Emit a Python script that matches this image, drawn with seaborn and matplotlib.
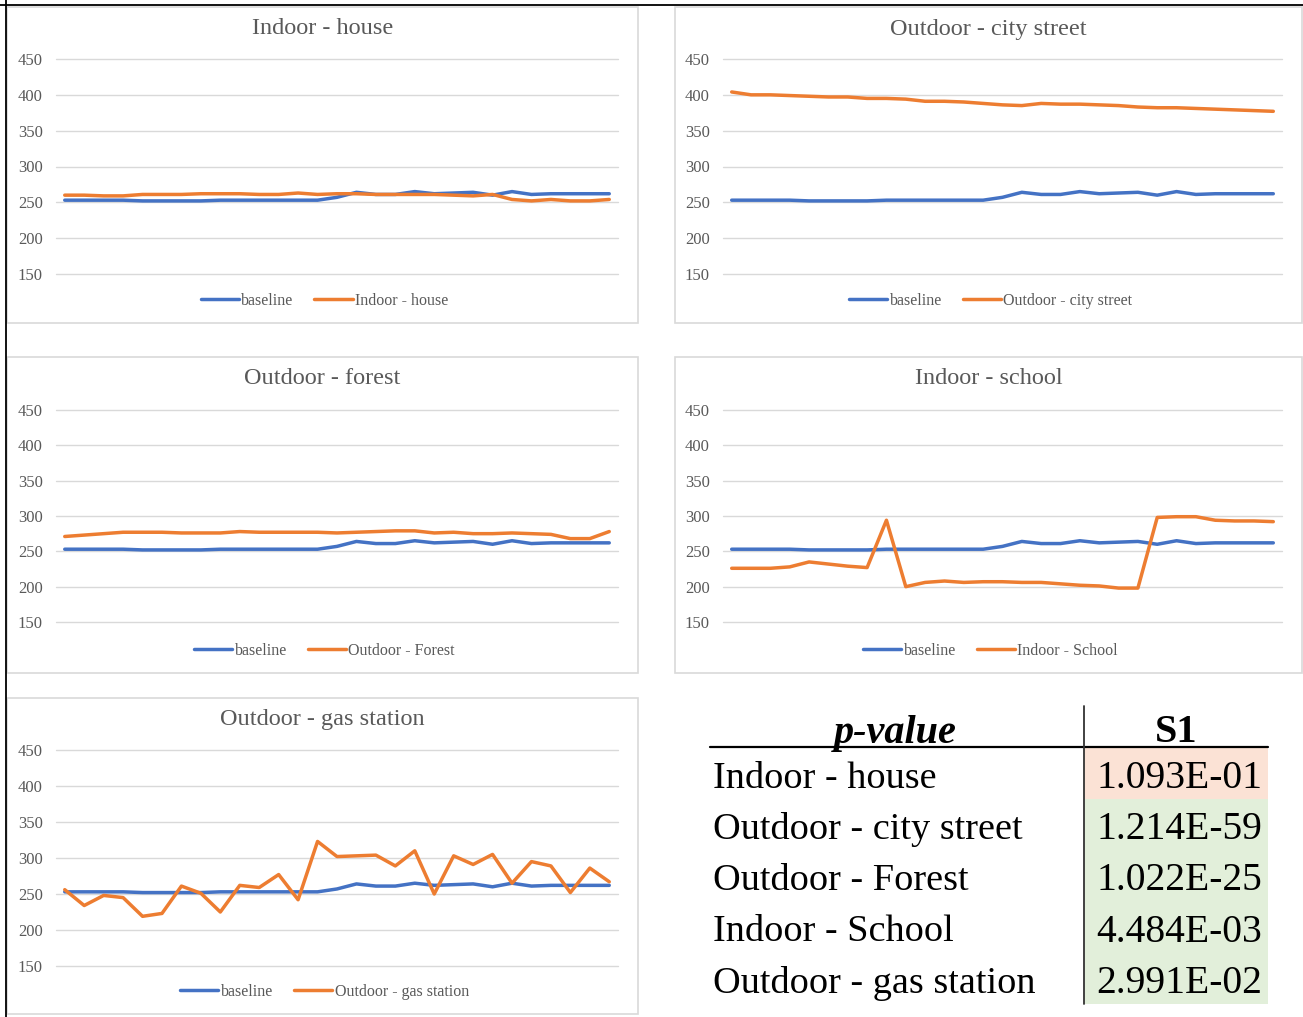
import matplotlib
matplotlib.use("Agg")
import matplotlib.pyplot as plt
from matplotlib.patches import Rectangle
from matplotlib.lines import Line2D
import seaborn as sns
import pandas as pd

# ---------------- data ----------------
points = list(range(1, 30))

baseline = [253, 253, 253, 253, 252, 252, 252, 252, 253, 253, 253, 253, 253, 253,
            257, 264, 261, 261, 265, 262, 263, 264, 260, 265, 261, 262, 262, 262, 262]

indoor_house = [260, 260, 259, 259, 261, 261, 261, 262, 262, 262, 261, 261, 263, 261,
                262, 262, 261, 261, 261, 261, 260, 259, 261, 254, 252, 254, 252, 252, 254]

outdoor_city_street = [404, 400, 400, 399, 398, 397, 397, 395, 395, 394, 391, 391, 390, 388,
                       386, 385, 388, 387, 387, 386, 385, 383, 382, 382, 381, 380, 379, 378, 377]

outdoor_forest = [271, 273, 275, 277, 277, 277, 276, 276, 276, 278, 277, 277, 277, 277,
                  276, 277, 278, 279, 279, 276, 277, 275, 275, 276, 275, 274, 268, 268, 278]

indoor_school = [226, 226, 226, 228, 235, 232, 229, 227, 294, 200, 206, 208, 206, 207,
                 207, 206, 206, 204, 202, 201, 198, 198, 298, 299, 299, 294, 293, 293, 292]

outdoor_gas_station = [256, 234, 248, 245, 219, 223, 261, 251, 225, 262, 259, 277, 242, 323,
                       302, 303, 304, 289, 310, 250, 303, 291, 305, 265, 295, 289, 252, 286, 267]

panel_titles = ["Indoor - house", "Outdoor - city street", "Outdoor - forest",
                "Indoor - school", "Outdoor - gas station"]
legend_labels = ["Indoor - house", "Outdoor - city street", "Outdoor - Forest",
                 "Indoor - School", "Outdoor - gas station"]
series = [indoor_house, outdoor_city_street, outdoor_forest, indoor_school, outdoor_gas_station]
baseline_label = "baseline"

y_ticks = [150, 200, 250, 300, 350, 400, 450]

table_header = ["p-value", "S1"]
table_rows = ["Indoor - house", "Outdoor - city street", "Outdoor - Forest",
              "Indoor - School", "Outdoor - gas station"]
p_values = ["1.093E-01", "1.214E-59", "1.022E-25", "4.484E-03", "2.991E-02"]

# ---------------- styling ----------------
W, H = 1303, 1017
DPI = 100
sns.set_theme(style="white")
plt.rcParams["font.family"] = ["Liberation Serif", "DejaVu Serif"]

BLUE = "#4472C4"
ORANGE = "#ED7D31"
GRID = "#D9D9D9"
TXT = "#595959"
LW = 2.5

fig = plt.figure(figsize=(W / DPI, H / DPI), dpi=DPI)
fig.patch.set_facecolor("white")

bg = fig.add_axes([0, 0, 1, 1])
bg.set_xlim(0, W)
bg.set_ylim(H, 0)
bg.axis("off")


def rect(x0, y0, x1, y1):
    return [x0 / W, 1 - y1 / H, (x1 - x0) / W, (y1 - y0) / H]


# panel boxes: (box x0, y0, x1, y1), axes (x0, y0, x1, y1)
panels = [
    ((7, 7, 638, 323), (56, 59, 618, 274)),
    ((675, 7, 1302, 323), (723, 59, 1282, 274)),
    ((7, 357, 638, 673), (56, 410, 618, 622)),
    ((675, 357, 1302, 673), (723, 410, 1282, 622)),
    ((7, 698, 638, 1014), (56, 750, 618, 966)),
]

for i, ((bx0, by0, bx1, by1), (ax0, ay0, ax1, ay1)) in enumerate(panels):
    bg.add_patch(Rectangle((bx0, by0), bx1 - bx0, by1 - by0, facecolor="white",
                           edgecolor=GRID, lw=1.2, zorder=1))
    ax = fig.add_axes(rect(ax0, ay0, ax1, ay1))
    ax.patch.set_alpha(0)
    df = pd.DataFrame({
        "point": points * 2,
        "value": baseline + series[i],
        "series": [baseline_label] * len(points) + [legend_labels[i]] * len(points),
    })
    sns.lineplot(data=df, x="point", y="value", hue="series", ax=ax,
                 palette=[BLUE, ORANGE], lw=LW, legend=False)
    for ln in ax.lines:
        ln.set_solid_joinstyle("round")
        ln.set_solid_capstyle("round")
    ax.set_xlim(0.55, 29.45)
    ax.set_ylim(150, 450)
    ax.set_yticks(y_ticks)
    ax.set_xticks([])
    ax.set_xlabel("")
    ax.set_ylabel("")
    for s in ax.spines.values():
        s.set_visible(False)
    ax.grid(axis="y", color=GRID, lw=1.0)
    ax.set_axisbelow(True)
    for gl in ax.get_ygridlines():
        gl.set_clip_on(False)
    ax.tick_params(axis="y", length=0, pad=9.5, labelsize=12, labelcolor=TXT)

    cx = (bx0 + bx1) / 2
    bg.text(cx, by0 + 22, panel_titles[i], ha="center", va="center",
            fontsize=17.5, color=TXT, zorder=3)
    handles = [Line2D([], [], color=BLUE, lw=LW), Line2D([], [], color=ORANGE, lw=LW)]
    fig.legend(handles, [baseline_label, legend_labels[i]], loc="center",
               bbox_to_anchor=((cx + 2) / W, 1 - (by0 + 294) / H), ncol=2,
               frameon=False, fontsize=11.5, handlelength=2.4,
               handletextpad=0.15, columnspacing=1.3, labelcolor=TXT)

# outer black border lines (top & left)
bg.add_line(Line2D([0, W], [5, 5], color="black", lw=1.3, zorder=5))
bg.add_line(Line2D([5.5, 5.5], [0, H], color="black", lw=1.3, zorder=5))

# ---------------- p-value table ----------------
tx0, tsplit, tx1 = 710, 1084, 1268
header_y = 733
row_top = 748
row_h = 51.2
cell_colors = ["#FBE2D5"] + ["#E2EFDA"] * (len(p_values) - 1)

for r, (name, pv) in enumerate(zip(table_rows, p_values)):
    y0 = row_top + r * row_h
    bg.add_patch(Rectangle((tsplit, y0), tx1 - tsplit, row_h, facecolor=cell_colors[r],
                           edgecolor="none", zorder=1))
    yc = y0 + row_h / 2 + 5
    bg.text(713, yc, name, ha="left", va="center", fontsize=27.5, color="black", zorder=3)
    bg.text(1179, yc, pv, ha="center", va="center", fontsize=28.5, color="black", zorder=3)

bg.text(895, header_y, table_header[0], ha="center", va="center", fontsize=29,
        fontweight="bold", fontstyle="italic", color="black", zorder=3)
bg.text(1176, header_y, table_header[1], ha="center", va="center", fontsize=29,
        fontweight="bold", color="black", zorder=3)

bg.add_line(Line2D([tx0, tx1], [747, 747], color="black", lw=1.6, zorder=4))
bg.add_line(Line2D([tsplit, tsplit], [706, row_top + len(p_values) * row_h],
                   color="#333333", lw=1.3, zorder=4))

fig.savefig("out.png", dpi=DPI)
